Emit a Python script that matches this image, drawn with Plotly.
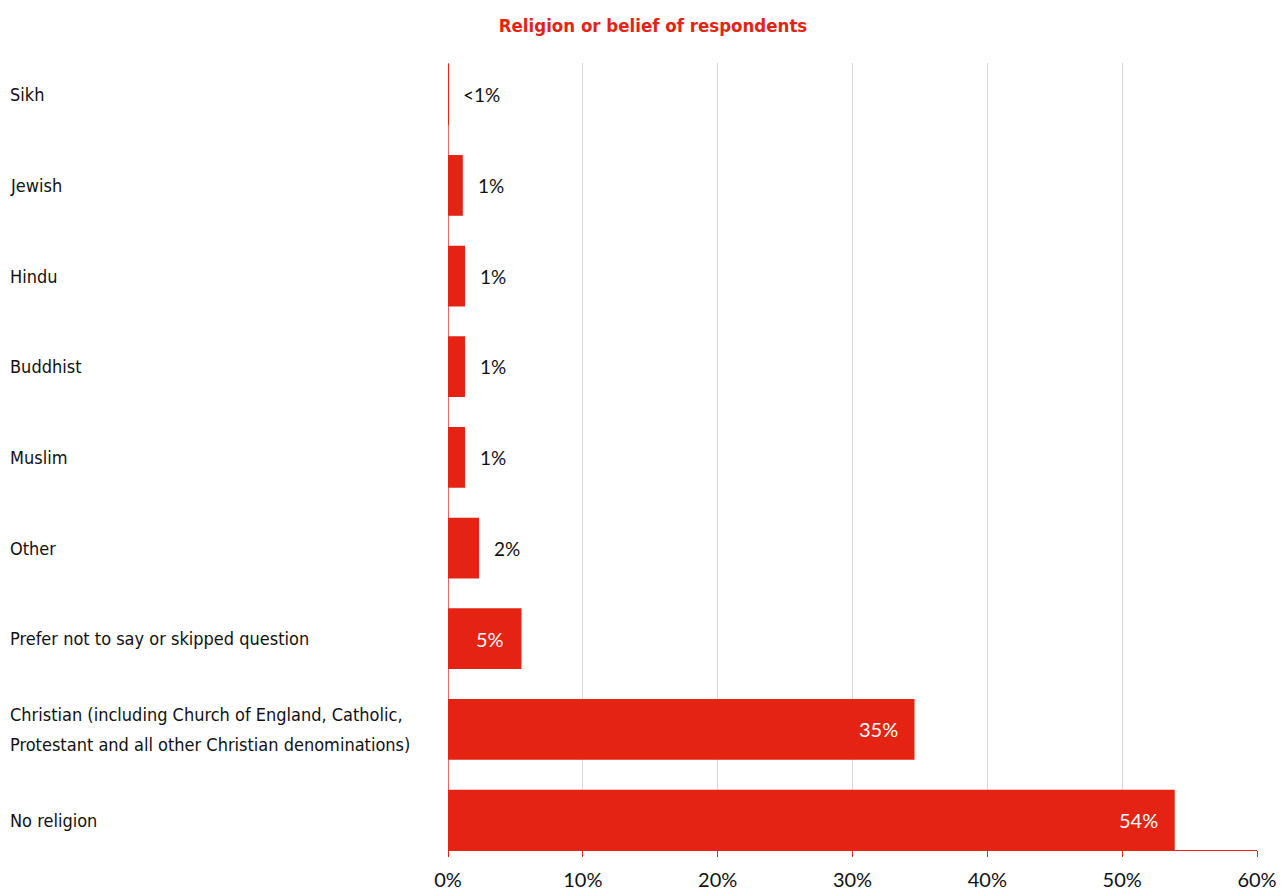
import plotly.graph_objects as go

# Survey categories, listed top to bottom
categories = [
    "Sikh",
    "Jewish",
    "Hindu",
    "Buddhist",
    "Muslim",
    "Other",
    "Prefer not to say or skipped question",
    "Christian (including Church of England, Catholic,\nProtestant and all other Christian denominations)",
    "No religion",
]
# Share of respondents (%)
shares = [0.03, 1.1, 1.26, 1.26, 1.26, 2.3, 5.45, 34.6, 53.9]
x_ticks = [0, 10, 20, 30, 40, 50, 60]

RED = "#E42313"
LABEL_FONT = "DejaVu Sans Condensed, Roboto, sans-serif"
NUM_FONT = "Lato"

fig = go.Figure()
fig.add_trace(go.Bar(
    x=shares,
    y=categories,
    orientation="h",
    width=0.67,
    marker=dict(color=RED, line=dict(width=0)),
    hoverinfo="skip",
))

annotations = []
# category labels, left aligned at the page edge
for cat in categories:
    lines = cat.split("\n")
    n = len(lines)
    for i, line in enumerate(lines):
        annotations.append(dict(
            x=-0.5439, xref="paper", y=cat, yref="y",
            text=line, showarrow=False, xanchor="left", yanchor="middle",
            yshift=(n - 1) * 15 - i * 30,
            font=dict(family=LABEL_FONT, size=18, color="#111111"),
        ))

# value labels: white inside long bars, black beside short ones
for cat, v in zip(categories, shares):
    label = "<1%" if v < 1 else f"{v:.0f}%"
    if v >= 5:
        annotations.append(dict(
            x=v, y=cat, text=label, showarrow=False,
            xanchor="right", yanchor="middle", xshift=-15, yshift=0,
            font=dict(family=NUM_FONT, size=20, color="white"),
        ))
    else:
        annotations.append(dict(
            x=v, y=cat, text=label, showarrow=False,
            xanchor="left", yanchor="middle", xshift=13, yshift=0,
            font=dict(family=NUM_FONT, size=19, color="#111111"),
        ))

fig.update_layout(
    width=1288, height=893,
    margin=dict(l=448, r=31, t=63, b=43, autoexpand=False),
    paper_bgcolor="white", plot_bgcolor="white",
    showlegend=False,
    title=dict(
        text="<b>Religion or belief of respondents</b>",
        x=653 / 1288, xanchor="center", y=1 - 26 / 893, yanchor="middle",
        font=dict(family=LABEL_FONT, size=18.5, color=RED),
    ),
    annotations=annotations,
    xaxis=dict(
        range=[0, 60], tickvals=x_ticks, ticktext=[f"{t}%" for t in x_ticks],
        showgrid=True, gridcolor="#d9d9d9", gridwidth=1,
        zeroline=True, zerolinecolor="#ee6a5f", zerolinewidth=1,
        showline=True, linecolor=RED, linewidth=1,
        ticks="outside", ticklen=6, tickcolor=RED,
        ticklabelstandoff=6,
        tickfont=dict(family=NUM_FONT, size=20, color="#111111"),
        automargin=False, fixedrange=True,
    ),
    yaxis=dict(
        type="category", categoryorder="array",
        categoryarray=list(reversed(categories)),
        range=[-0.33, 8.35], showticklabels=False, showgrid=False,
        zeroline=False, showline=False, automargin=False, fixedrange=True,
    ),
)

fig.write_html("out.html")
